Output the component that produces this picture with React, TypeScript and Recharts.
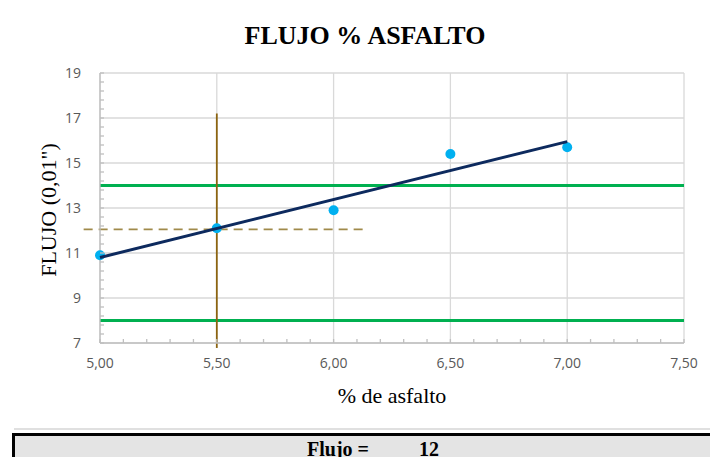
import {
  ComposedChart,
  Scatter,
  XAxis,
  YAxis,
  CartesianGrid,
  ReferenceLine,
} from "recharts";

// asphalt content (%) and flow readings (0,01")
const asfalto = [5.0, 5.5, 6.0, 6.5, 7.0];
const flujo = [10.9, 12.1, 12.9, 15.4, 15.7];

// linear trend end points
const trendX = [5.0, 7.0];
const trendY = [10.8, 15.95];

// spec limits
const limiteSup = 14;
const limiteInf = 8;

// optimum asphalt lookup lines
const optimoX = 5.5;
const optimoY = 12.05;
const verticalRange = [6.78, 17.2];
const dashedRange = [4.93, 6.15];

const xTicks = [5, 5.5, 6, 6.5, 7, 7.5];
const yTicks = [7, 9, 11, 13, 15, 17, 19];
const flujoResult = "12";

// minor tick positions (Excel style: 5 per major step)
const xMinor = Array.from({ length: 26 }, (_, i) => 5 + i * 0.1);
const yMinor = Array.from({ length: 31 }, (_, i) => 7 + i * 0.4);

const points = asfalto.map((x, i) => ({ x, y: flujo[i] }));
const trend = trendX.map((x, i) => ({ x, y: trendY[i] }));

const TICK_MARGIN = 15;
const Y_TICK_MARGIN = 19;
const tickFont = "'Open Sans', sans-serif";
const serif = "'Liberation Serif', 'Times New Roman', serif";

const isMajor = (v: number, list: number[]) => list.some((t) => Math.abs(t - v) < 1e-6);

function XTick(props: any) {
  const { x, y, payload } = props;
  const axisY = y - TICK_MARGIN;
  const major = isMajor(payload.value, xTicks);
  return (
    <g>
      <line x1={x} x2={x} y1={axisY} y2={axisY - 4} stroke="#bfbfbf" strokeWidth={1.3} />
      {major && (
        <text x={x} y={y} dy="0.71em" textAnchor="middle" fill="#595959" fontSize={14} fontFamily={tickFont}>
          {payload.value.toFixed(2).replace(".", ",")}
        </text>
      )}
    </g>
  );
}

function YTick(props: any) {
  const { x, y, payload } = props;
  const axisX = x + Y_TICK_MARGIN;
  const major = isMajor(payload.value, yTicks);
  return (
    <g>
      <line x1={axisX} x2={axisX + 4} y1={y} y2={y} stroke="#bfbfbf" strokeWidth={1.3} />
      {major && (
        <text x={x} y={y} dy="0.355em" textAnchor="end" fill="#595959" fontSize={14} fontFamily={tickFont}>
          {Math.round(payload.value)}
        </text>
      )}
    </g>
  );
}

export default function App() {
  return (
    <div
      style={{
        position: "absolute",
        left: 0,
        top: 0,
        width: 710,
        height: 457,
        overflow: "hidden",
        background: "#fff",
      }}
    >
      <div
        style={{
          position: "absolute",
          left: 0,
          width: 730,
          top: 23.2,
          textAlign: "center",
          fontFamily: serif,
          fontWeight: "bold",
          fontSize: 26,
          lineHeight: 1,
          color: "#000",
        }}
      >
        FLUJO % ASFALTO
      </div>

      <ComposedChart
        width={710}
        height={420}
        margin={{ top: 73, right: 26, left: 0, bottom: 0 }}
        style={{ position: "absolute", left: 0, top: 0 }}
      >
        <CartesianGrid
          stroke="#d9d9d9"
          strokeWidth={1.3}
          verticalValues={xTicks}
          horizontalValues={yTicks}
        />
        <XAxis
          type="number"
          dataKey="x"
          domain={[5, 7.5]}
          ticks={xMinor}
          interval={0}
          height={77}
          stroke="#bfbfbf"
          strokeWidth={1.3}
          tickLine={false}
          tickSize={0}
          tickMargin={TICK_MARGIN}
          tick={<XTick />}
        />
        <YAxis
          type="number"
          dataKey="y"
          domain={[7, 19]}
          ticks={yMinor}
          interval={0}
          width={100}
          stroke="#bfbfbf"
          strokeWidth={1.3}
          tickLine={false}
          tickSize={0}
          tickMargin={Y_TICK_MARGIN}
          tick={<YTick />}
        />

        <ReferenceLine y={limiteSup} stroke="#00b050" strokeWidth={3} />
        <ReferenceLine y={limiteInf} stroke="#00b050" strokeWidth={3} />

        <ReferenceLine
          segment={[
            { x: dashedRange[0], y: optimoY },
            { x: dashedRange[1], y: optimoY },
          ]}
          ifOverflow="visible"
          stroke="#a08a4a"
          strokeWidth={1.8}
          strokeDasharray="9 6"
        />

        <Scatter
          data={points}
          fill="#00b0f0"
          shape={(p: any) => <circle cx={p.cx} cy={p.cy} r={5} fill="#00b0f0" />}
          isAnimationActive={false}
        />

        <Scatter
          data={trend}
          line={{ stroke: "#0d2a5e", strokeWidth: 3 }}
          shape={() => <g />}
          isAnimationActive={false}
          legendType="none"
        />

        <ReferenceLine
          segment={[
            { x: optimoX, y: verticalRange[0] },
            { x: optimoX, y: verticalRange[1] },
          ]}
          ifOverflow="visible"
          stroke="#8c6410"
          strokeWidth={1.8}
        />
      </ComposedChart>

      <div
        style={{
          position: "absolute",
          left: 49.3,
          top: 210,
          transform: "translate(-50%, -50%) rotate(-90deg)",
          whiteSpace: "nowrap",
          fontFamily: serif,
          fontSize: 22,
          lineHeight: 1,
          color: "#000",
        }}
      >
        FLUJO (0,01")
      </div>
      <div
        style={{
          position: "absolute",
          left: 292,
          width: 200,
          top: 384.6,
          textAlign: "center",
          fontFamily: serif,
          fontSize: 22,
          lineHeight: 1,
          color: "#000",
        }}
      >
        % de asfalto
      </div>

      <div
        style={{
          position: "absolute",
          left: 14,
          top: 428,
          width: 700,
          height: 2,
          background: "#e0e0e0",
        }}
      />
      <div
        style={{
          position: "absolute",
          left: 12,
          top: 433,
          width: 720,
          height: 40,
          border: "3px solid #000",
          background: "#e4e4e4",
        }}
      />
      <div
        style={{
          position: "absolute",
          left: 307,
          top: 439,
          fontFamily: serif,
          fontWeight: "bold",
          fontSize: 20,
          lineHeight: 1,
          color: "#000",
          whiteSpace: "nowrap",
        }}
      >
        Flujo =
      </div>
      <div
        style={{
          position: "absolute",
          left: 419,
          top: 439,
          fontFamily: serif,
          fontWeight: "bold",
          fontSize: 20,
          lineHeight: 1,
          color: "#000",
        }}
      >
        {flujoResult}
      </div>
    </div>
  );
}
